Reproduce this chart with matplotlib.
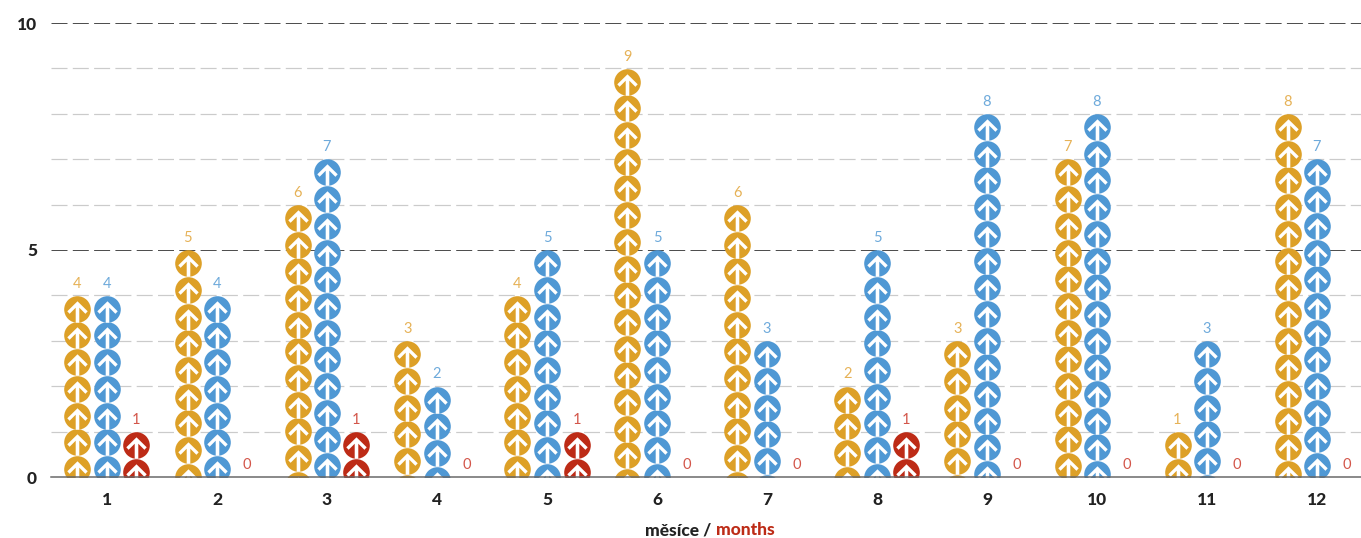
import matplotlib
matplotlib.use("Agg")
import matplotlib.pyplot as plt
from matplotlib.path import Path

months = list(range(1, 13))
orange_vals = [4, 5, 6, 3, 4, 9, 6, 2, 3, 7, 1, 8]
blue_vals = [4, 4, 7, 2, 5, 5, 3, 5, 8, 8, 3, 7]
red_vals = [1, 0, 1, 0, 1, 0, 0, 1, 0, 0, 0, 0]

W, H = 1361, 538
PT = 72 / 100  # one pixel in points at dpi 100

plt.rcParams["font.family"] = ["Lato", "DejaVu Sans"]
plt.rcParams["lines.scale_dashes"] = False

fig = plt.figure(figsize=(W / 100, H / 100), dpi=100)
ax = fig.add_axes([51 / W, 1 - 477 / H, 1 - 51 / W, (477 - 23) / H])
ax.set_ylim(0, 10)
ax.set_xlim(1 - 56 / 110, 12 + 44 / 110)

# grid, the 5 and 10 lines are darker
dash = (0, (16 * PT, 5.3 * PT))
for v in range(1, 11):
    major = v % 5 == 0
    ax.axhline(v, color="#3c3c3c" if major else "#cbcbcb", lw=PT * (0.9 if major else 1.2),
               ls=dash, zorder=1, clip_on=False)
ax.axhline(0, color="#666666", lw=1.5 * PT, zorder=5, clip_on=False)

# arrow glyph in pixels around the circle centre
r = 13.3
arrow = Path([(0, 8.2), (10.2, -1.8), (7.9, -4.3), (1.8, 1.8), (1.8, -r), (-1.8, -r),
              (-1.8, 1.8), (-7.9, -4.3), (-10.2, -1.8), (0, 8.2)], closed=True)

px_per_unit = (477 - 23) / 10
step = 26.7 / px_per_unit
rad = r / px_per_unit


def stack(x, value, color, label_color):
    if value > 0:
        ys = []
        c = value - rad
        while c + rad > 0:
            ys.append(c)
            c -= step
        xs = [x] * len(ys)
        ax.plot(xs, ys, ls="none", marker="o", ms=2 * r * PT, mfc=color, mec="none", zorder=3)
        ax.plot(xs, ys, ls="none", marker=arrow, ms=2 * r * PT, mfc="white", mec="none", zorder=4)
    ax.text(x, value + 0.26, str(value), color=label_color, ha="center", va="center",
            fontsize=10.5, zorder=6)


offset = 29.5 / 110
for i, m in enumerate(months):
    stack(m - offset, orange_vals[i], "#dda027", "#e6b257")
    stack(m, blue_vals[i], "#4f98d4", "#6eaadb")
    stack(m + offset, red_vals[i], "#bd2b16", "#d3564a")

for s in ax.spines.values():
    s.set_visible(False)
ax.patch.set_visible(False)
ax.set_xticks(months)
ax.set_xticklabels(months, fontsize=12.5, fontweight=900, color="#222222")
ax.set_yticks([0, 5, 10])
ax.set_yticklabels(["0", "5", "10"], fontsize=12.5, fontweight=900, color="#222222")
ax.tick_params(axis="both", length=0)
ax.tick_params(axis="x", pad=11)
ax.tick_params(axis="y", pad=10)

fig.text(711 / W, 1 - 530 / H, "měsíce /", ha="right", va="center", fontsize=12.5,
         fontweight=900, color="#222222")
fig.text(716 / W, 1 - 530 / H, "months", ha="left", va="center", fontsize=12.5,
         fontweight=900, color="#bd2b16")

fig.savefig("out.png", dpi=100)
